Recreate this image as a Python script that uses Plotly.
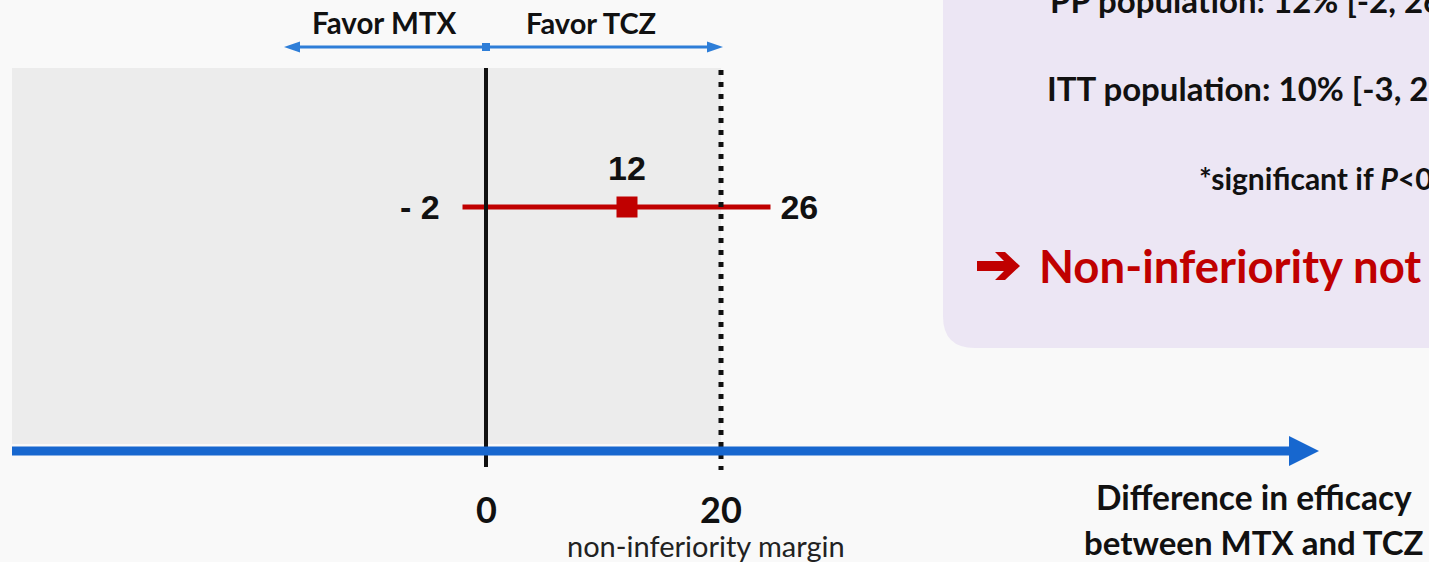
import plotly.graph_objects as go

# ---- data ----
estimate = [12]
ci_low = [-2]
ci_high = [26]
margin_value = 20
tick_values = [0, 20]
tick_labels = ["0", "20"]
favor_labels = ["Favor MTX", "Favor TCZ"]
axis_title = ["Difference in efficacy", "between MTX and TCZ"]
box_lines = ["PP population: 12% [-2, 26]", "ITT population: 10% [-3, 23]",
             "*significant if <i>P</i>&lt;0.05"]
conclusion = "Non-inferiority not shown"

W, H = 1429, 562
X0PX = 486.0      # pixel of value 0
PXU = 11.75       # pixels per unit


def px(p):
    return (p - X0PX) / PXU


FONT = "Lato"
NUMFONT = "Liberation Sans"
BLACK = "#111111"
RED = "#C00000"
BLUE = "#1767CF"
BLUE2 = "#2E7ED8"
BG = "#F9F9F9"

fig = go.Figure()

row_y = 207
fig.add_trace(go.Scatter(x=[ci_low[0], ci_high[0]], y=[row_y, row_y], mode="lines",
                         line=dict(color=RED, width=5), hoverinfo="skip", showlegend=False))
fig.add_trace(go.Scatter(x=estimate, y=[row_y], mode="markers",
                         marker=dict(symbol="square", size=21, color=RED),
                         showlegend=False))

shapes = []
shapes.append(dict(type="rect", xref="x", yref="y", x0=px(12), x1=margin_value, y0=68, y1=444,
                   fillcolor="#ECECEC", line=dict(width=0), layer="below"))
shapes.append(dict(type="path", xref="x", yref="y",
                   path=f"M {px(943)},-20 L {px(943)},316 Q {px(943)},348 {px(975)},348 L {px(1450)},348 L {px(1450)},-20 Z",
                   fillcolor="#ECE6F4", line=dict(width=0), layer="below"))
shapes.append(dict(type="line", xref="x", yref="y", x0=0, x1=0, y0=68, y1=467,
                   line=dict(color=BLACK, width=4)))
shapes.append(dict(type="line", xref="x", yref="y", x0=margin_value, x1=margin_value, y0=70, y1=470,
                   line=dict(color=BLACK, width=5, dash="5px,7px")))
shapes.append(dict(type="line", xref="x", yref="y", x0=px(12), x1=px(1292), y0=451, y1=451,
                   line=dict(color=BLUE, width=9)))
shapes.append(dict(type="path", xref="x", yref="y",
                   path=f"M {px(1289)},436 L {px(1319)},451 L {px(1289)},466 Z",
                   fillcolor=BLUE, line=dict(width=0)))
shapes.append(dict(type="line", xref="x", yref="y", x0=px(296), x1=px(712), y0=47, y1=47,
                   line=dict(color=BLUE2, width=3)))
shapes.append(dict(type="path", xref="x", yref="y",
                   path=f"M {px(284)},47 L {px(300)},41.5 L {px(300)},52.5 Z",
                   fillcolor=BLUE2, line=dict(width=0)))
shapes.append(dict(type="path", xref="x", yref="y",
                   path=f"M {px(723)},47 L {px(707)},41.5 L {px(707)},52.5 Z",
                   fillcolor=BLUE2, line=dict(width=0)))
shapes.append(dict(type="rect", xref="x", yref="y", x0=px(482), x1=px(490), y0=43, y1=51,
                   fillcolor=BLUE2, line=dict(width=0)))
# conclusion arrow (block arrow glyph)
shapes.append(dict(type="path", xref="x", yref="y",
                   path=(f"M {px(977)},261 L {px(1004)},261 L {px(995)},252 L {px(1005)},252 "
                         f"L {px(1020)},266 L {px(1005)},280 L {px(995)},280 L {px(1004)},271 "
                         f"L {px(977)},271 Z"),
                   fillcolor=RED, line=dict(width=0)))

ann = []


def A(text, x, y, size, color=BLACK, bold=True, xanchor="center", yanchor="middle",
      family=FONT, bgcolor=None):
    t = f"<b>{text}</b>" if bold else text
    d = dict(text=t, x=x, y=y, xref="x", yref="y", showarrow=False,
             xanchor=xanchor, yanchor=yanchor,
             font=dict(family=family, size=size, color=color))
    if bgcolor:
        d["bgcolor"] = bgcolor
        d["borderpad"] = 0
    ann.append(d)


A(favor_labels[0], px(384), 22, 29.5)
A(favor_labels[1], px(591), 22, 29)
A(str(estimate[0]), estimate[0], 168, 34, family=NUMFONT)
A("- " + str(abs(ci_low[0])), px(442), row_y, 34, xanchor="right", family=NUMFONT)
A("&nbsp;" + str(ci_high[0]) + "&nbsp;", px(770), row_y, 34, xanchor="left",
  family=NUMFONT, bgcolor=BG)
for v, t in zip(tick_values, tick_labels):
    A(t, v, 509, 36)
A("non-inferiority margin", px(706), 545, 29, color="#222222", bold=False)
A(axis_title[0], px(1254), 497, 33.5)
A(axis_title[1], px(1254), 542, 33)
A(box_lines[0], px(1048), 22, 33, xanchor="left", yanchor="bottom")
A(box_lines[1], px(1045), 88, 33, xanchor="left")
A(box_lines[2], px(1197), 178, 30, xanchor="left")
A(conclusion, px(1037), 265, 45.5, color=RED, xanchor="left")

fig.update_layout(
    width=W, height=H,
    margin=dict(l=0, r=0, t=0, b=0),
    paper_bgcolor=BG, plot_bgcolor=BG,
    xaxis=dict(range=[px(0), px(W)], visible=False, fixedrange=True),
    yaxis=dict(range=[H, 0], visible=False, fixedrange=True),
    shapes=shapes, annotations=ann, showlegend=False,
)

fig.write_html("out.html", config={"displayModeBar": False},
               post_script="document.body.style.margin='0';document.body.style.overflow='hidden';")
